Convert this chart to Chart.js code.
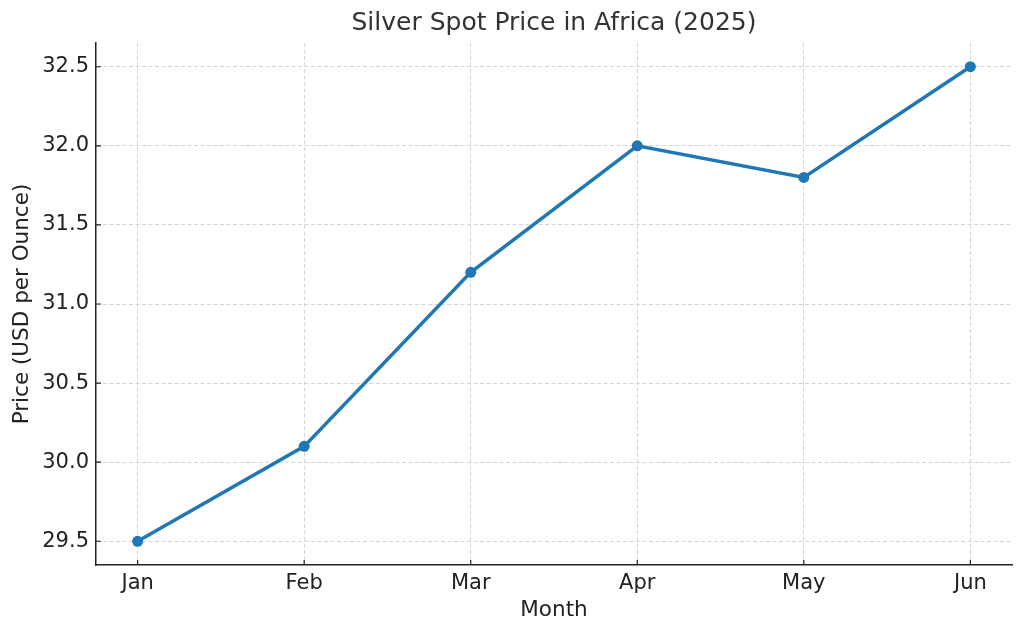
<!DOCTYPE html>
<html>
<head>
<meta charset="utf-8">
<script src="https://cdn.jsdelivr.net/npm/chart.js@4"></script>
<style>
html,body{margin:0;padding:0;background:#fff;}
#wrap{width:1024px;height:635px;}
</style>
</head>
<body>
<div id="wrap"><canvas id="c" width="1024" height="635"></canvas></div>
<script>
const months = ["Jan", "Feb", "Mar", "Apr", "May", "Jun"];
const prices = [29.5, 30.1, 31.2, 32.0, 31.8, 32.5];
const yTickValues = [29.5, 30.0, 30.5, 31.0, 31.5, 32.0, 32.5];
const chartTitle = "Silver Spot Price in Africa (2025)";
const xTitle = "Month";
const yTitle = "Price (USD per Ounce)";

const FONT = "'DejaVu Sans', sans-serif";
const AXIS_COLOR = "#222222";
const TEXT_COLOR = "#222222";
const GRID_COLOR = "#d5d5d5";

const points = months.map((m, i) => ({x: i, y: prices[i]}));

const innerTicks = {
  id: 'innerTicks',
  afterDatasetsDraw(chart) {
    const ctx = chart.ctx;
    const xs = chart.scales.x, ys = chart.scales.y;
    ctx.save();
    ctx.strokeStyle = AXIS_COLOR;
    ctx.lineWidth = 1.2;
    ctx.beginPath();
    xs.ticks.forEach(t => {
      const px = xs.getPixelForValue(t.value);
      ctx.moveTo(px, ys.bottom);
      ctx.lineTo(px, ys.bottom - 5);
    });
    ys.ticks.forEach(t => {
      const py = ys.getPixelForValue(t.value);
      ctx.moveTo(xs.left, py);
      ctx.lineTo(xs.left + 5, py);
    });
    ctx.stroke();
    ctx.restore();
  }
};

const plotTitle = {
  id: 'plotTitle',
  afterDraw(chart) {
    const ctx = chart.ctx;
    const a = chart.chartArea;
    ctx.save();
    ctx.fillStyle = '#333333';
    ctx.font = "25px " + FONT;
    ctx.textAlign = 'center';
    ctx.textBaseline = 'middle';
    ctx.fillText(chartTitle, (a.left + a.right) / 2, 23);
    ctx.restore();
  }
};

new Chart(document.getElementById('c'), {
  type: 'line',
  data: {
    datasets: [{
      data: points,
      borderColor: '#1f77b4',
      backgroundColor: '#1f77b4',
      borderWidth: 3.5,
      pointRadius: 5.5,
      pointHoverRadius: 5.5,
      pointBorderWidth: 0,
      tension: 0,
      fill: false
    }]
  },
  options: {
    responsive: false,
    animation: false,
    devicePixelRatio: 1,
    layout: {padding: {left: 0, right: 12, top: 43, bottom: 0}},
    plugins: {
      legend: {display: false},
      tooltip: {enabled: false},
      title: {display: false}
    },
    scales: {
      x: {
        type: 'linear',
        min: -0.25,
        max: 5.25,
        afterBuildTicks(scale) {
          scale.ticks = months.map((m, i) => ({value: i}));
        },
        afterFit(scale) { scale.height = 70; },
        ticks: {
          callback: (v) => months[v],
          color: TEXT_COLOR,
          font: {family: FONT, size: 21},
          padding: 6,
          maxRotation: 0,
          autoSkip: false
        },
        grid: {color: GRID_COLOR, lineWidth: 1, drawTicks: false},
        border: {display: true, color: AXIS_COLOR, width: 1.5, dash: [4, 2.5]},
        title: {
          display: true,
          text: xTitle,
          color: TEXT_COLOR,
          font: {family: FONT, size: 21.5, lineHeight: 1.2},
          padding: {top: 0, bottom: 12}
        }
      },
      y: {
        type: 'linear',
        min: 29.35,
        max: 32.65,
        afterBuildTicks(scale) {
          scale.ticks = yTickValues.map(v => ({value: v}));
        },
        afterFit(scale) { scale.width = 96; },
        ticks: {
          callback: (v) => Number(v).toFixed(1),
          color: TEXT_COLOR,
          font: {family: FONT, size: 21},
          padding: 7
        },
        grid: {color: GRID_COLOR, lineWidth: 1, drawTicks: false},
        border: {display: true, color: AXIS_COLOR, width: 1.5, dash: [4, 2.5]},
        title: {
          display: true,
          text: yTitle,
          color: TEXT_COLOR,
          font: {family: FONT, size: 21.5, lineHeight: 1.2},
          padding: {top: 10, bottom: 0}
        }
      }
    }
  },
  plugins: [innerTicks, plotTitle]
});
</script>
</body>
</html>
